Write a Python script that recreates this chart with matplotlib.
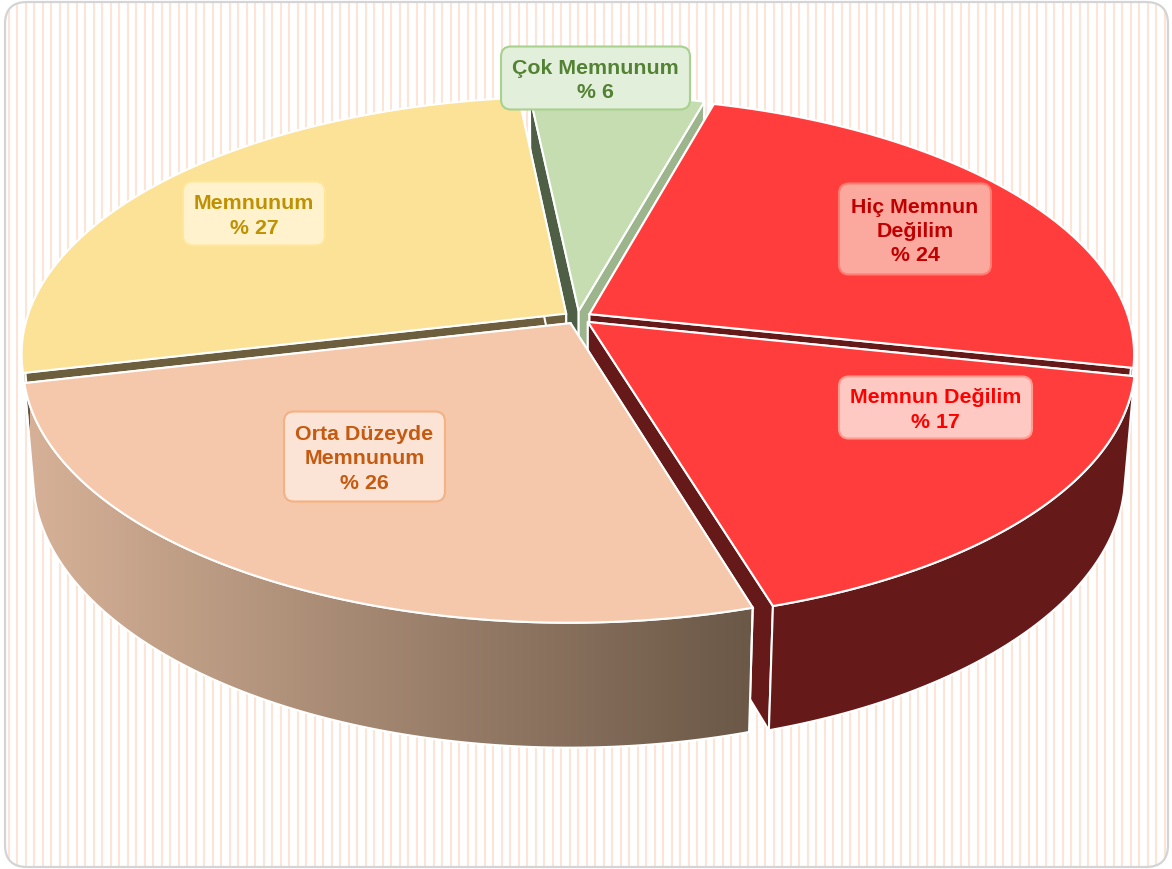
import numpy as np
import matplotlib
matplotlib.use("Agg")
import matplotlib.pyplot as plt
from matplotlib.patches import FancyBboxPatch, Polygon

plt.rcParams['font.family'] = ['Liberation Sans', 'DejaVu Sans']

# data, clockwise from the top
categories = ["Çok Memnunum", "Hiç Memnun\nDeğilim", "Memnun Değilim", "Orta Düzeyde\nMemnunum", "Memnunum"]
values = [6, 24, 17, 26, 27]

# styles
top_colors = ["#C5DDB0", "#FF3D3D", "#FF3D3D", "#F5C8AB", "#FBE297"]
wall_first = ["#4F5F45", "#661919", "#661919", "#6B5847", "#6D5F3E"]  # wall at start angle
wall_last = ["#9DB58C", "#661919", "#661919", "#6B5847", "#6D5F3E"]   # wall at end angle
box_fill = ["#E2EFDA", "#FBA89E", "#FEC9C2", "#FBE3D5", "#FFF2CC"]
box_edge = ["#A9D18E", "#FF7C70", "#FF9C90", "#F4B183", "#FFE699"]
text_colors = ["#548235", "#C00000", "#FF0000", "#C55A11", "#BF9000"]
# label boxes in pixels: left, top, right, bottom
boxes = [(501, 47.5, 690, 110.5), (839, 184.5, 991, 275.5), (839, 377.5, 1032, 439.5),
         (284, 412.5, 445, 502.5), (183, 182.5, 325, 246.5)]

# pie geometry: disc seen in perspective
START = -6.0
EXPLODE = 0.026
CX, CY = 577.5, 318.5
RX, RY = 539, 251.5
PERSP = 0.154
DEPTH_W, DEPTH_Y = 0.018, 113


def project(u, v, z):
    # z is 0 on the top face, 1 on the bottom face
    w = 1 + PERSP * v + DEPTH_W * z
    return CX + RX * u / w, CY - (RY * v - DEPTH_Y * z) / w


fig = plt.figure(figsize=(11.72, 8.70), dpi=100)
ax = fig.add_axes([0, 0, 1, 1])

# card with stripes
card = FancyBboxPatch((27, 25), 1119, 821, boxstyle="round,pad=22,rounding_size=22",
                      fc="white", ec="none", zorder=0)
ax.add_patch(card)
for x in np.arange(8.5, 1172, 8.5):
    line = ax.plot([x, x], [0, 870], color="#FCE4D6", lw=1.5, zorder=1, solid_capstyle="butt")[0]
    line.set_clip_path(card)
border = FancyBboxPatch((27, 25), 1119, 821, boxstyle="round,pad=22,rounding_size=22",
                        fc="none", ec="#D4D4D4", lw=1.6, zorder=2)
ax.add_patch(border)

# slice angles from the values
spans = np.array(values) / sum(values) * 360
starts = START + np.concatenate([[0], np.cumsum(spans)[:-1]])

WHITE = dict(ec="white", lw=1.5, joinstyle="miter")

# gradient for the orange outer wall, light on the left
shade = np.linspace(matplotlib.colors.to_rgb("#D6B197"), matplotlib.colors.to_rgb("#6B5847"), 256)[None, :, :]

# back to front
for z, i in enumerate([0, 4, 1, 2, 3], start=10):
    a0, a1 = starts[i], starts[i] + spans[i]
    mid = np.radians((a0 + a1) / 2)
    ou, ov = EXPLODE * np.sin(mid), EXPLODE * np.cos(mid)
    t = np.radians(np.linspace(a0, a1, 160))
    u, v = ou + np.sin(t), ov + np.cos(t)

    xt, yt = project(u, v, 0)
    xb, yb = project(u, v, 1)
    ax0, ay0 = project(ou, ov, 0)
    bx0, by0 = project(ou, ov, 1)

    # radial walls
    ax.add_patch(Polygon([(ax0, ay0), (xt[0], yt[0]), (xb[0], yb[0]), (bx0, by0)],
                         fc=wall_first[i], zorder=z, **WHITE))
    ax.add_patch(Polygon([(ax0, ay0), (xt[-1], yt[-1]), (xb[-1], yb[-1]), (bx0, by0)],
                         fc=wall_last[i], zorder=z, **WHITE))

    # outer wall, front part only
    front = np.cos(t) < -0.1
    if front.any():
        pts = np.r_[np.c_[xt[front], yt[front]], np.c_[xb[front][::-1], yb[front][::-1]]]
        if categories[i].startswith("Orta"):
            wall = ax.add_patch(Polygon(pts, fc="none", ec="none", zorder=z))
            im = ax.imshow(shade, extent=(30, 750, 870, 0), aspect="auto", zorder=z)
            im.set_clip_path(wall)
            ax.add_patch(Polygon(pts, fc="none", zorder=z, **WHITE))
        else:
            ax.add_patch(Polygon(pts, fc=wall_last[i], zorder=z, **WHITE))

    # top face
    ax.add_patch(Polygon(np.r_[[[ax0, ay0]], np.c_[xt, yt]], fc=top_colors[i], zorder=z, **WHITE))

# labels
for i, name in enumerate(categories):
    x0, y0, x1, y1 = boxes[i]
    ax.add_patch(FancyBboxPatch((x0 + 10, y0 + 10), x1 - x0 - 20, y1 - y0 - 20,
                                boxstyle="round,pad=10,rounding_size=10",
                                fc=box_fill[i], ec=box_edge[i], lw=1.5, zorder=20))
    ax.text((x0 + x1) / 2, (y0 + y1) / 2 + 1.5, f"{name}\n% {values[i]}", ha="center", va="center",
            color=text_colors[i], fontsize=15.4, fontweight="bold", linespacing=1.34, zorder=21)

ax.set_xlim(0, 1172)
ax.set_ylim(870, 0)
ax.axis("off")

fig.savefig("out.png", dpi=100)
